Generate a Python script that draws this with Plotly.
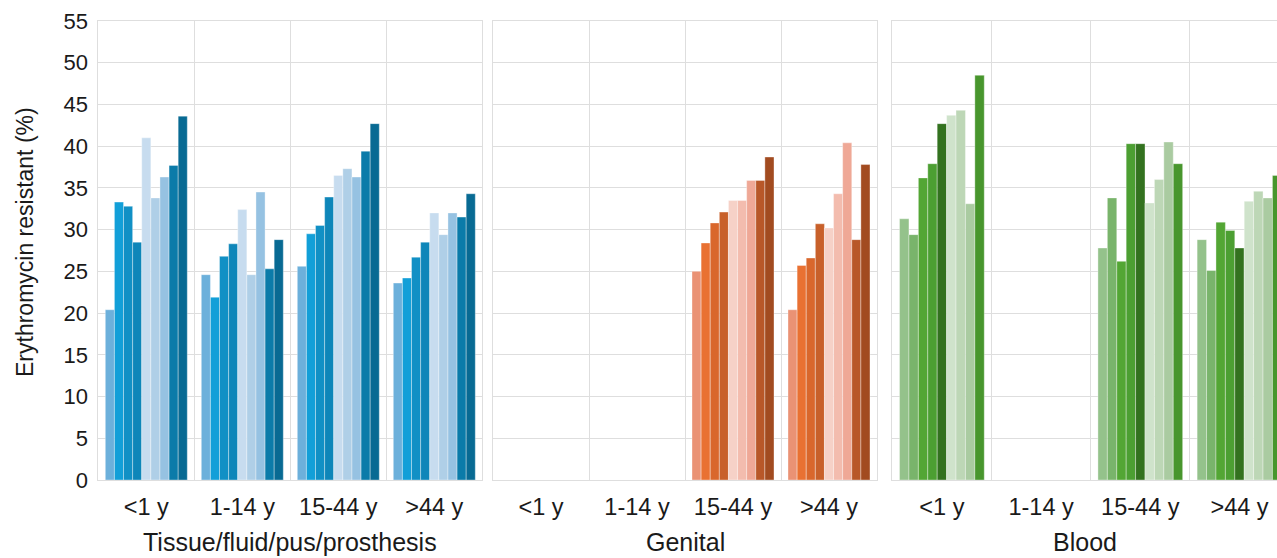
import plotly.graph_objects as go

W, H = 1277, 558

age_groups = ["<1 y", "1-14 y", "15-44 y", ">44 y"]
panel_titles = ["Tissue/fluid/pus/prosthesis", "Genital", "Blood"]

# Erythromycin resistance (%) per age group, nine series per specimen type
tissue = [
    [20.4, 24.6, 25.6, 23.6],
    [33.3, 21.9, 29.5, 24.2],
    [32.8, 26.8, 30.5, 26.7],
    [28.5, 28.3, 33.9, 28.5],
    [41.0, 32.4, 36.5, 32.0],
    [33.8, 24.6, 37.3, 29.4],
    [36.3, 34.5, 36.3, 32.0],
    [37.7, 25.3, 39.4, 31.5],
    [43.6, 28.8, 42.7, 34.3],
]
genital = [
    [None, None, 25.0, 20.4],
    [None, None, 28.4, 25.7],
    [None, None, 30.8, 26.6],
    [None, None, 32.1, 30.7],
    [None, None, 33.5, 30.2],
    [None, None, 33.5, 34.3],
    [None, None, 35.9, 40.4],
    [None, None, 35.9, 28.8],
    [None, None, 38.7, 37.8],
]
blood = [
    [31.3, None, 27.8, 28.8],
    [29.4, None, 33.8, 25.1],
    [36.2, None, 26.2, 30.9],
    [37.9, None, 40.3, 29.9],
    [42.7, None, 40.3, 27.8],
    [43.7, None, 33.2, 33.4],
    [44.3, None, 36.0, 34.6],
    [33.1, None, 40.5, 33.8],
    [48.5, None, 37.9, 36.5],
]

blues = ["#6cb0db", "#129fd8", "#1190c5", "#0e86b9", "#c7dcef",
         "#afcfe7", "#96c2e2", "#0b7ba9", "#086a93"]
oranges = ["#ea9274", "#e97132", "#d9672c", "#c8602a", "#f6d1c7",
           "#f3bcae", "#efa896", "#b85728", "#a24b20"]
greens = ["#94c28b", "#79b46b", "#53a634", "#4c9f32", "#33721f",
          "#cfe3cb", "#bdd7b6", "#aacba1", "#48962d"]

panels = [(tissue, blues), (genital, oranges), (blood, greens)]

FONT = "Liberation Sans, Arial, sans-serif"
TXT = "#1a1a1a"
GRID = "#dedede"

fig = go.Figure()
for p, (series, colors) in enumerate(panels):
    ax = "" if p == 0 else str(p + 1)
    for i, vals in enumerate(series):
        fig.add_trace(go.Bar(
            x=age_groups, y=vals,
            marker=dict(color=colors[i], line=dict(color="rgba(255,255,255,0.35)", width=1)),
            xaxis="x" + ax, yaxis="y" + ax,
            name=f"Series {i + 1}", showlegend=False,
            offsetgroup=str(i),
        ))

# panel geometry in pixels
px_dom = [(98.3, 482.3), (493.0, 877.0), (892.3, 1277.0)]
cat_w3 = 99.2
ybot, ytop = 480.0, 21.0
ydom = [(H - ybot) / H, (H - ytop) / H]

layout = dict(
    width=W, height=H,
    margin=dict(l=0, r=0, t=0, b=0, autoexpand=False),
    paper_bgcolor="white", plot_bgcolor="white",
    barmode="group", bargap=0.146, bargroupgap=0,
    font=dict(family=FONT, color=TXT),
)

for p in range(3):
    ax = "" if p == 0 else str(p + 1)
    x0, x1 = px_dom[p]
    rng = [-0.5, 3.5] if p < 2 else [-0.5, -0.5 + (x1 - x0) / cat_w3]
    layout["xaxis" + ax] = dict(
        domain=[x0 / W, x1 / W], anchor="y" + ax,
        type="category", categoryorder="array", categoryarray=age_groups,
        range=rng, tickson="boundaries", ticks="",
        showgrid=True, gridcolor=GRID, gridwidth=1,
        showline=True, linecolor=GRID, linewidth=1, mirror=True,
        tickfont=dict(size=23.5, family=FONT, color=TXT),
        ticklabelstandoff=6, automargin=False,
        fixedrange=True,
    )
    layout["yaxis" + ax] = dict(
        domain=ydom, anchor="x" + ax,
        range=[0, 55], tick0=0, dtick=5,
        showgrid=True, gridcolor=GRID, gridwidth=1,
        zeroline=False,
        showline=True, linecolor=GRID, linewidth=1, mirror=(p < 2),
        showticklabels=(p == 0), ticks="",
        tickfont=dict(size=22, family=FONT, color=TXT),
        ticklabelstandoff=5, automargin=False,
        fixedrange=True,
    )
    if p > 0:
        layout["yaxis" + ax]["matches"] = "y"

annotations = []
centers = [290.0, 685.0, 1084.5]
for title, cx in zip(panel_titles, centers):
    annotations.append(dict(
        text=title, x=cx / W, y=(H - 542) / H, xref="paper", yref="paper",
        showarrow=False, xanchor="center", yanchor="middle",
        font=dict(size=25, family=FONT, color=TXT),
    ))
annotations.append(dict(
    text="Erythromycin resistant (%)", x=25 / W, y=(H - 242) / H,
    xref="paper", yref="paper", showarrow=False, textangle=-90,
    xanchor="center", yanchor="middle",
    font=dict(size=23, family=FONT, color=TXT),
))
layout["annotations"] = annotations

fig.update_layout(**layout)
fig.write_html("out.html", config=dict(displayModeBar=False))
